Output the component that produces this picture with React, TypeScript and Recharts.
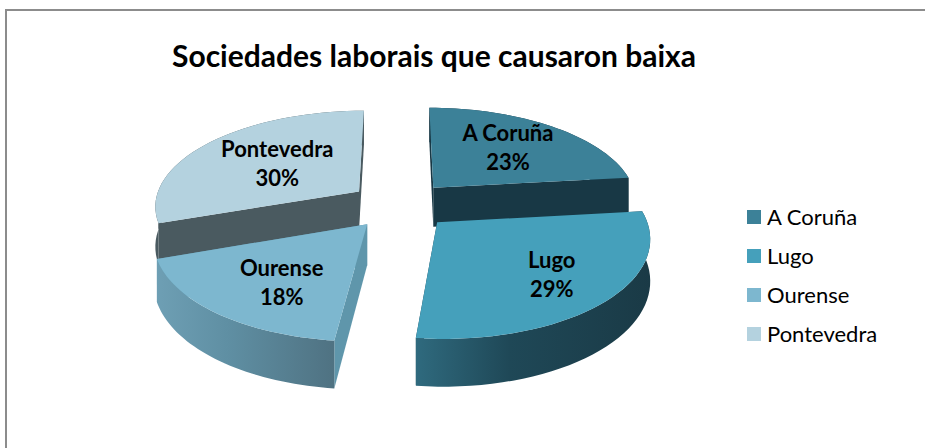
import { Legend, Pie, PieChart } from 'recharts';

const CATEGORIES = ['A Coruña', 'Lugo', 'Ourense', 'Pontevedra'];
const COUNTS = [13, 16, 10, 17];
// back slices are drawn first, so the front ones cover their side walls
const DRAW_ORDER = [3, 0, 1, 2];
const COLORS = ['#3c8198', '#45a0bb', '#7db7cf', '#b4d2df'];
const CUT_WALLS = ['#183845', '#1b3c48', '#5f96ab', '#4a5a60'];
const ARC_WALLS = [
  ['#183845', '#183845', '#183845'],
  ['#2f6a7e', '#1f4857', '#1a3a46'],
  ['#6e9fb4', '#5f8fa3', '#4f7282'],
  ['#4a5a60', '#4a5a60', '#4a5a60'],
];

const WIDTH = 925;
const HEIGHT = 448;
const CENTER_X = 400;
const CENTER_Y = 205;
const RADIUS = 205;
const SQUASH = 0.465;
const TILT = 0.138;
const DEPTH = 40;
const EXPLODE = 0.25;
const LABEL_REACH = [0.61, 0.7, 0.655, 0.53];
const LABEL_TURN = [0, 0, 5, 0];

const pieData = DRAW_ORDER.map((i) => ({ name: CATEGORIES[i], value: COUNTS[i], fill: COLORS[i], index: i }));
const sweepBeforeTop = (COUNTS[3] / COUNTS.reduce((a, b) => a + b, 0)) * 360;

const rad = (deg: number) => (deg * Math.PI) / 180;

// unit disc point to screen, with the near edge of the disc drawn larger
function project(cx: number, cy: number, r: number, u: number, v: number) {
  const w = 1 + TILT * v;
  return { x: cx + (u * r) / w, y: cy - (v * r * SQUASH) / w, drop: DEPTH / w };
}

function SliceShape(props: any) {
  const { cx, cy, outerRadius: r, startAngle, endAngle, midAngle, payload } = props;
  const i = payload.index;
  const ox = EXPLODE * Math.cos(rad(midAngle));
  const oy = EXPLODE * Math.sin(rad(midAngle));
  const steps = 40;
  const arc = [];
  for (let s = 0; s <= steps; s++) {
    const a = rad(startAngle + ((endAngle - startAngle) * s) / steps);
    arc.push(project(cx, cy, r, ox + Math.cos(a), oy + Math.sin(a)));
  }
  const apex = project(cx, cy, r, ox, oy);
  const pts = (list: { x: number; y: number }[]) => list.map((p) => `${p.x},${p.y}`).join(' ');
  const down = (p: { x: number; y: number; drop: number }) => ({ ...p, y: p.y + p.drop });
  const first = arc[0];
  const last = arc[arc.length - 1];
  const gradientId = `arc-wall-${i}`;
  return (
    <g>
      <defs>
        <linearGradient id={gradientId} x1="0" y1="0" x2="1" y2="0">
          <stop offset="0%" stopColor={ARC_WALLS[i][0]} />
          <stop offset="40%" stopColor={ARC_WALLS[i][1]} />
          <stop offset="100%" stopColor={ARC_WALLS[i][2]} />
        </linearGradient>
      </defs>
      <polygon points={pts([apex, first, down(first), down(apex)])} fill={CUT_WALLS[i]} />
      <polygon points={pts([apex, last, down(last), down(apex)])} fill={CUT_WALLS[i]} />
      <polygon points={pts([...arc, ...arc.map(down).reverse()])} fill={`url(#${gradientId})`} />
      <polygon points={pts([apex, ...arc])} fill={COLORS[i]} />
    </g>
  );
}

function sliceLabel(props: any) {
  const { cx, cy, outerRadius: r, midAngle, percent, payload } = props;
  const i = payload.index;
  const ox = EXPLODE * Math.cos(rad(midAngle));
  const oy = EXPLODE * Math.sin(rad(midAngle));
  const a = rad(midAngle + LABEL_TURN[i]);
  const p = project(cx, cy, r, ox + LABEL_REACH[i] * Math.cos(a), oy + LABEL_REACH[i] * Math.sin(a));
  return (
    <text x={p.x} y={p.y} textAnchor="middle" fontFamily="Lato" fontWeight={700} fontSize={22} fill="#000">
      <tspan x={p.x} dy={-7.5}>{payload.name}</tspan>
      <tspan x={p.x} dy={29}>{`${Math.round(percent * 100)}%`}</tspan>
    </text>
  );
}

function LegendList() {
  return (
    <div style={{ fontFamily: 'Lato', fontSize: 22, color: '#000' }}>
      {CATEGORIES.map((name, i) => (
        <div key={name} style={{ display: 'flex', alignItems: 'center', height: 39 }}>
          <span style={{ width: 14, height: 14, background: COLORS[i], marginRight: 6 }} />
          {name}
        </div>
      ))}
    </div>
  );
}

export default function App() {
  return (
    <div style={{ position: 'absolute', left: 0, top: 0, width: WIDTH, height: HEIGHT, background: '#fff' }}>
      <PieChart width={WIDTH} height={HEIGHT} margin={{ top: 0, right: 0, bottom: 0, left: 0 }}>
        <line x1={6} y1={9} x2={6} y2={HEIGHT} stroke="#8c8c8c" strokeWidth={2} />
        <line x1={5} y1={10} x2={WIDTH} y2={10} stroke="#8c8c8c" strokeWidth={2} />
        <text x={172} y={67} fontFamily="Lato" fontWeight={700} fontSize={30} fill="#000">
          Sociedades laborais que causaron baixa
        </text>
        <Pie
          data={pieData}
          dataKey="value"
          nameKey="name"
          cx={CENTER_X}
          cy={CENTER_Y}
          innerRadius={0}
          outerRadius={RADIUS}
          startAngle={90 + sweepBeforeTop}
          endAngle={90 + sweepBeforeTop - 360}
          shape={SliceShape}
          label={sliceLabel}
          labelLine={false}
          isAnimationActive={false}
        />
        <Legend
          content={LegendList}
          layout="vertical"
          wrapperStyle={{ left: 747, top: 197, width: 150, bottom: 'auto' }}
        />
      </PieChart>
    </div>
  );
}
